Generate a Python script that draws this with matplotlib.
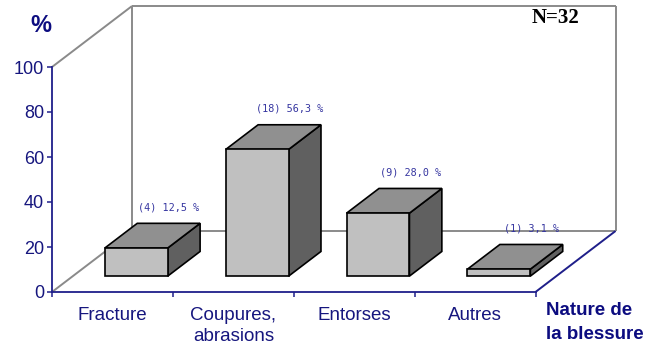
import matplotlib.pyplot as plt
from matplotlib.patches import Polygon
from matplotlib.ticker import FixedLocator

categories = ["Fracture", "Coupures,\nabrasions", "Entorses", "Autres"]
counts = [4, 18, 9, 1]
percents = [12.5, 56.3, 28.0, 3.1]
total_n = 32

navy = "#1f1f8a"
text_navy = "#16167e"
wall_grey = "#8a8a8a"

# oblique depth offset for d=1 (in data units of the front plane)
DX = 0.662
DY = 27.1


def proj(x, y, d):
    return x + d * DX, y + d * DY


fig = plt.figure(figsize=(6.51, 3.5), dpi=100)
ax = fig.add_axes([52 / 651, 58 / 350, 483.5 / 651, 225 / 350])
ax.set_xlim(0, len(categories))
ax.set_ylim(0, 100)
ax.patch.set_visible(False)

# back wall, side wall and floor edges
def wall_line(p, q, color=wall_grey, z=1):
    ax.plot([p[0], q[0]], [p[1], q[1]], color=color, lw=1.4,
            clip_on=False, zorder=z, solid_capstyle="butt")

nx = len(categories)
wall_line(proj(0, 0, 1), proj(0, 100, 1))
wall_line(proj(0, 100, 1), proj(nx, 100, 1))
wall_line(proj(nx, 100, 1), proj(nx, 0, 1))
wall_line(proj(0, 0, 1), proj(nx, 0, 1))
wall_line(proj(0, 100, 0), proj(0, 100, 1))
wall_line(proj(0, 0, 0), proj(0, 0, 1))
wall_line(proj(nx, 0, 0), proj(nx, 0, 1), color=navy, z=2)

# 3d-looking bars
d0, d1 = 0.26, 0.665
half_w = 0.26
for i, v in enumerate(percents):
    xc = i + 0.525
    x0, x1 = xc - half_w, xc + half_w
    front = [proj(x0, 0, d0), proj(x1, 0, d0), proj(x1, v, d0), proj(x0, v, d0)]
    top = [proj(x0, v, d0), proj(x1, v, d0), proj(x1, v, d1), proj(x0, v, d1)]
    side = [proj(x1, 0, d0), proj(x1, 0, d1), proj(x1, v, d1), proj(x1, v, d0)]
    for pts, col in [(side, "#606060"), (top, "#909090"), (front, "#c0c0c0")]:
        ax.add_patch(Polygon(pts, closed=True, facecolor=col, edgecolor="black",
                             lw=1.2, joinstyle="miter", clip_on=False, zorder=4))
    lx, ly = proj(xc, v, d1)
    lab = "(%d) %s %%" % (counts[i], ("%.1f" % v).replace(".", ","))
    ax.annotate(lab, (lx, ly), xytext=(0, 11.5), textcoords="offset points",
                ha="center", va="center", fontsize=7.3, color="#3535a0",
                family="DejaVu Sans Mono", annotation_clip=False, zorder=6)

# axes styling
for s in ["top", "right"]:
    ax.spines[s].set_visible(False)
for s in ["left", "bottom"]:
    ax.spines[s].set_color(navy)
    ax.spines[s].set_linewidth(1.3)

ax.set_yticks(range(0, 101, 20))
ax.tick_params(axis="y", direction="out", length=3.6, width=1.1, color=navy,
               labelcolor=text_navy, labelsize=13, pad=2)
ax.xaxis.set_major_locator(FixedLocator(range(0, nx + 1)))
ax.xaxis.set_minor_locator(FixedLocator([i + 0.5 for i in range(nx)]))
ax.set_xticklabels([])
ax.set_xticklabels(categories, minor=True)
ax.tick_params(axis="x", which="major", direction="out", length=3.6, width=1.1,
               color=navy)
ax.tick_params(axis="x", which="minor", length=0, pad=11,
               labelcolor=text_navy, labelsize=13.5)
for t in ax.get_yticklabels() + ax.get_xticklabels(minor=True):
    t.set_family("Liberation Sans")
for t in ax.get_xticklabels(minor=True):
    t.set_linespacing(1.32)

fig.text(41 / 651, 1 - 25 / 350, "%", ha="center", va="center", fontsize=17,
         fontweight="bold", color="#0c0c80", family="Liberation Sans")
fig.text(546 / 651, 1 - 302 / 350, "Nature de\nla blessure", ha="left", va="top",
         fontsize=13.5, fontweight="bold", color="#0c0c80",
         family="Liberation Sans", linespacing=1.55)
fig.text(556 / 651, 1 - 18 / 350, "N=%d" % total_n, ha="center", va="center",
         fontsize=15, fontweight="bold", color="black", family="Liberation Serif")

fig.savefig("out.png", dpi=100)
